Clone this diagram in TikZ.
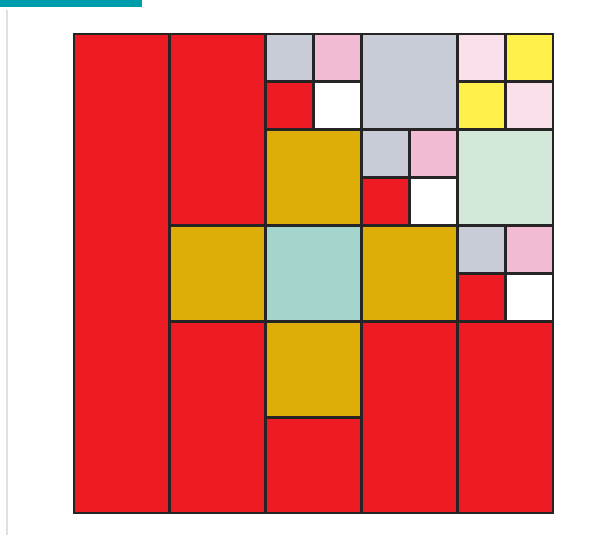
\documentclass[tikz,border=0pt]{standalone}
\usepackage{xcolor}
\definecolor{mred}{HTML}{ED1C24}
\definecolor{mgold}{HTML}{DEAE08}
\definecolor{mgray}{HTML}{C8CCD7}
\definecolor{mpink}{HTML}{F2BCD5}
\definecolor{mblush}{HTML}{FAE0EB}
\definecolor{myellow}{HTML}{FFF04A}
\definecolor{mmint}{HTML}{D4E8DA}
\definecolor{mteal}{HTML}{A3D5CD}
\definecolor{edge}{HTML}{262425}
\definecolor{barteal}{HTML}{009EAC}

\begin{document}
\begin{tikzpicture}[
  x=71.85pt,y=-71.85pt,
  cell/.style={draw=edge,line width=2.2pt,line join=miter},
  rule/.style={draw=black!12,line width=1.6pt}
]
\useasboundingbox (-0.7724,-0.3549) rectangle (5.6367,5.2296);
% header strip and margin rule
\fill[barteal] (-0.7724,-0.3549) rectangle (0.7098,-0.2818);
\draw[rule] (-0.699,-0.25) -- (-0.699,5.2296);
% whole cells
\foreach \xa/\ya/\xb/\yb/\c in {
  0/0/1/5/mred, 1/0/2/2/mred, 1/2/2/3/mgold, 1/3/2/5/mred,
  3/0/4/1/mgray, 2/1/3/2/mgold, 4/1/5/2/mmint,
  2/2/3/3/mteal, 3/2/4/3/mgold,
  2/3/3/4/mgold, 2/4/3/5/mred, 3/3/4/5/mred, 4/3/5/5/mred}
  \draw[cell,fill=\c] (\xa,\ya) rectangle (\xb,\yb);
% split cells
\foreach \xa/\ya/\ca/\cb/\cc/\cd in {
  2/0/mgray/mpink/mred/white,
  3/1/mgray/mpink/mred/white,
  4/2/mgray/mpink/mred/white,
  4/0/mblush/myellow/myellow/mblush}{
  \draw[cell,fill=\ca] (\xa,\ya) rectangle ++(0.5,0.5);
  \draw[cell,fill=\cb] (\xa+0.5,\ya) rectangle ++(0.5,0.5);
  \draw[cell,fill=\cc] (\xa,\ya+0.5) rectangle ++(0.5,0.5);
  \draw[cell,fill=\cd] (\xa+0.5,\ya+0.5) rectangle ++(0.5,0.5);
}
\draw[cell] (0,0) rectangle (5,5);
\end{tikzpicture}
\end{document}
